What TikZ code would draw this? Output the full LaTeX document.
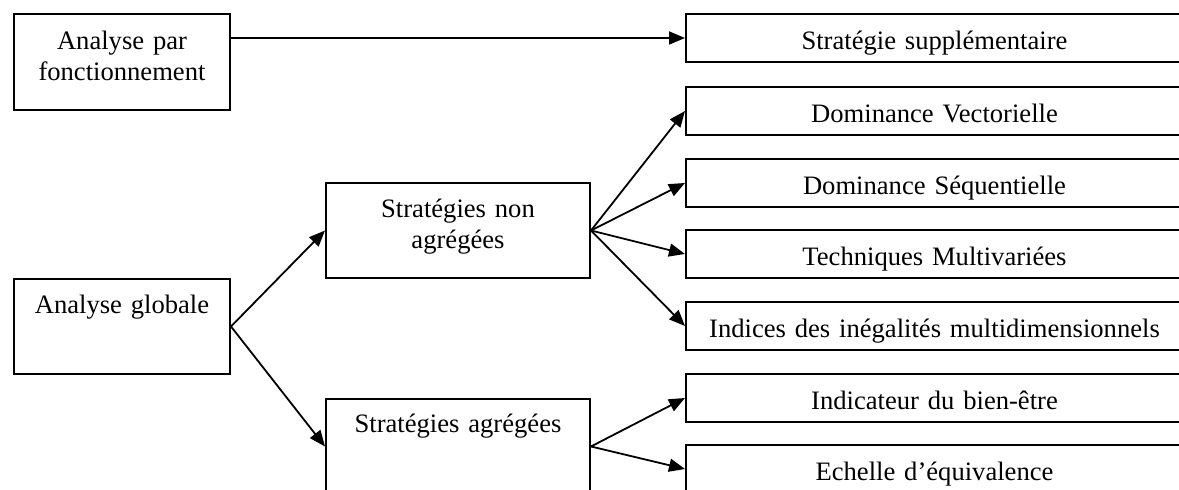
\documentclass[tikz,border=0pt]{standalone}
\usepackage{fontspec}
\setmainfont{Liberation Serif}
\usetikzlibrary{arrows.meta}

\tikzset{
  boite/.style={draw, line width=1pt, anchor=north west, inner sep=0pt, align=center,
    font=\fontsize{13.3}{15.5}\selectfont},
  petitbloc/.style={boite, text width=248.5pt, text height=18pt, text depth=6pt},
  fleche/.style={-{Triangle[length=8pt,width=6.5pt]}, line width=0.9pt}
}

\begin{document}
\begin{tikzpicture}[x=0.5pt,y=0.5pt,yscale=-1,xscale=1]
%set diagram window: 1179 x 490
\clip (0,0) rectangle (1179,490);

%Shape: Rectangle, left column
\node[boite, text width=108pt, text height=18pt, text depth=30pt] (fonct) at (13,13) {Analyse par\\fonctionnement};
\node[boite, text width=108pt, text height=17.5pt, text depth=30pt] (globale) at (13,278) {Analyse globale};

%Shape: Rectangle, middle column
\node[boite, text width=132pt, text height=17.5pt, text depth=30pt] (nonagr) at (325,182) {Stratégies non\\agrégées};
\node[boite, text width=132pt, text height=17pt, text depth=30.5pt] (agr) at (325,398) {Stratégies agrégées};

%Shape: Rectangle, right column
\foreach \nom/\y/\txt in {supp/13/Stratégie supplémentaire,
    vect/86/Dominance Vectorielle,
    seq/158/Dominance Séquentielle,
    multi/229/Techniques Multivariées,
    indices/301/Indices des inégalités multidimensionnels,
    bienetre/373/Indicateur du bien-être,
    echelle/444/Echelle d’équivalence}
  \node[petitbloc] (\nom) at (685,\y) {\txt};

%Straight Lines
\draw[fleche] (fonct.east |- supp.west) -- (supp.west);
\draw[fleche] (globale.east) -- (nonagr.west);
\draw[fleche] (globale.east) -- (agr.west);
\foreach \cible in {vect,seq,multi,indices}
  \draw[fleche] (nonagr.east) -- (\cible.west);
\foreach \cible in {bienetre,echelle}
  \draw[fleche] (agr.east) -- (\cible.west);

\end{tikzpicture}
\end{document}
